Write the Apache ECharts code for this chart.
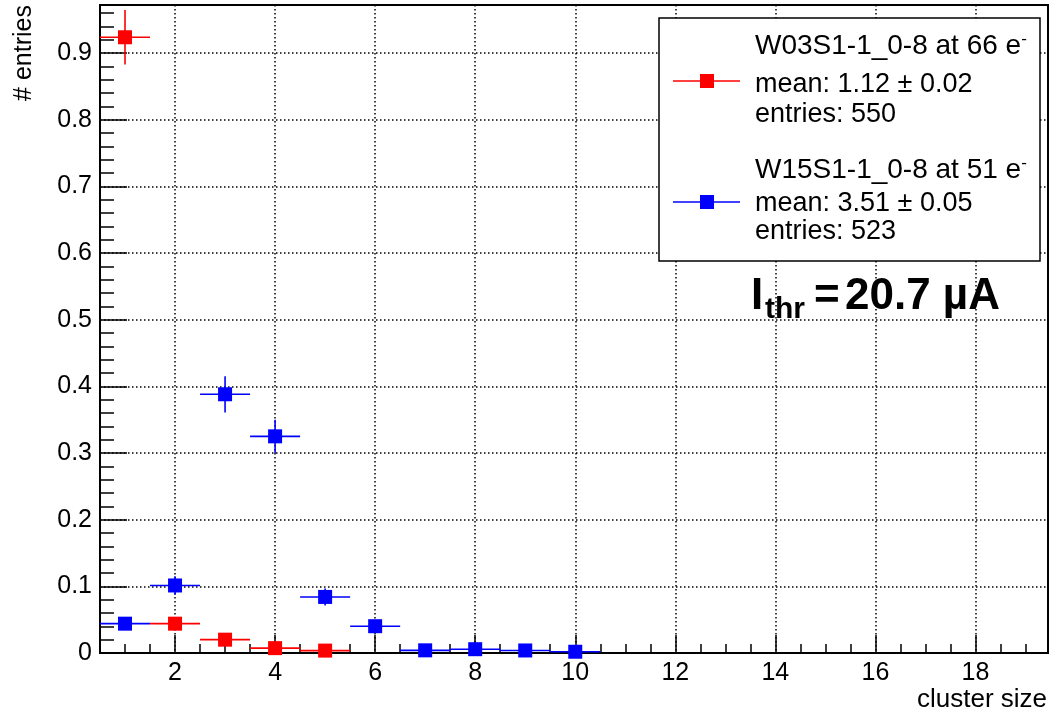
<!DOCTYPE html>
<html>
<head>
<meta charset="utf-8">
<title>cluster size</title>
<script src="https://cdn.jsdelivr.net/npm/echarts@6/dist/echarts.min.js"></script>
<style>
  html, body { margin: 0; padding: 0; background: #ffffff; }
  #chart { width: 1053px; height: 714px; }
</style>
</head>
<body>
<div id="chart"></div>
<script>
// Cluster size bins (bin centres, unit width)
const w03Sizes  = [1, 2, 3, 4, 5];
const w03Values = [0.9236, 0.0440, 0.0200, 0.0073, 0.0036];
const w03Errors = [0.0410, 0.0091, 0.0060, 0.0036, 0.0026];

const w15Sizes  = [1, 2, 3, 4, 5, 6, 7, 8, 9, 10];
const w15Values = [0.0440, 0.1013, 0.3881, 0.3250, 0.0841, 0.0402, 0.0040, 0.0057, 0.0038, 0.0019];
const w15Errors = [0.0092, 0.0139, 0.0272, 0.0249, 0.0127, 0.0088, 0.0027, 0.0033, 0.0027, 0.0019];

const w03Name = 'W03S1-1_0-8 at 66 e';
const w03Mean = 'mean: 1.12 \u00b1 0.02';
const w03Entries = 'entries: 550';
const w15Name = 'W15S1-1_0-8 at 51 e';
const w15Mean = 'mean: 3.51 \u00b1 0.05';
const w15Entries = 'entries: 523';

const xTitle = 'cluster size';
const yTitle = '# entries';

const RED = '#ff0000';
const BLUE = '#0000ff';
const FONT = '"Liberation Sans", Arial, Helvetica, sans-serif';
const TOP_Z = 100;

function toRows(xs, ys, es) {
  return xs.map((x, i) => [x, ys[i], es[i]]);
}

// Histogram point: horizontal bar over the bin width, vertical statistical error, square marker
function histPoint(color) {
  return function (params, api) {
    const x = api.value(0), y = api.value(1), e = api.value(2);
    const half = 0.5;
    const l = api.coord([x - half, y]);
    const r = api.coord([x + half, y]);
    const lo = api.coord([x, y - e]);
    const hi = api.coord([x, y + e]);
    const c = api.coord([x, y]);
    const s = 14;
    const stroke = { stroke: color, lineWidth: 1.6 };
    return {
      type: 'group',
      children: [
        { type: 'line', shape: { x1: l[0], y1: l[1], x2: r[0], y2: r[1] }, style: stroke },
        { type: 'line', shape: { x1: lo[0], y1: lo[1], x2: hi[0], y2: hi[1] }, style: stroke },
        { type: 'rect', shape: { x: c[0] - s / 2, y: c[1] - s / 2, width: s, height: s }, style: { fill: color } }
      ]
    };
  };
}

const dotted = { color: '#000', width: 1.5, type: [1.5, 2.5] };

const chart = echarts.init(document.getElementById('chart'), null, { renderer: 'canvas' });

const legendRich = {
  n: { fontSize: 28, fontFamily: FONT, color: '#000', lineHeight: 30 },
  sup: { fontSize: 17, fontFamily: FONT, color: '#000', lineHeight: 12, verticalAlign: 'top' }
};

function legendText(x, y, str, withSup) {
  return {
    type: 'text', x: x, y: y, z: TOP_Z + 1,
    style: withSup
      ? { text: '{n|' + str + '}{sup|-}', rich: legendRich, verticalAlign: 'middle', align: 'left' }
      : { text: str, font: '27px ' + FONT, fill: '#000', verticalAlign: 'middle', align: 'left' }
  };
}

function legendMarker(y, color) {
  return [
    { type: 'rect', z: TOP_Z + 1, shape: { x: 673, y: y - 0.8, width: 67, height: 1.6 }, style: { fill: color } },
    { type: 'rect', z: TOP_Z + 2, shape: { x: 700, y: y - 7, width: 14, height: 14 }, style: { fill: color } }
  ];
}

function boldText(x, y, str, size) {
  return {
    type: 'text', x: x, y: y, z: TOP_Z,
    style: { text: str, font: 'bold ' + size + 'px ' + FONT, fill: '#000', align: 'left', verticalAlign: 'middle' }
  };
}

chart.setOption({
  animation: false,
  backgroundColor: '#ffffff',
  grid: {
    left: 100, top: 5, right: 5, bottom: 61,
    show: true, borderColor: '#000', borderWidth: 2, backgroundColor: 'transparent'
  },
  xAxis: {
    type: 'value',
    min: 0.5, max: 19.45,
    splitNumber: 10, minInterval: 2, maxInterval: 2,
    axisLine: { show: true, onZero: false, lineStyle: { color: '#000', width: 2 } },
    axisTick: { show: true, inside: true, length: 18, lineStyle: { color: '#000', width: 1.5 } },
    minorTick: { show: true, splitNumber: 4, length: 9, lineStyle: { color: '#000', width: 1.5 } },
    axisLabel: {
      show: true, margin: 8, fontSize: 25, fontFamily: FONT, color: '#000',
      showMinLabel: false, showMaxLabel: false
    },
    splitLine: { show: true, showMinLine: false, showMaxLine: false, lineStyle: dotted }
  },
  yAxis: {
    type: 'value',
    min: 0, max: 0.972, interval: 0.1,
    axisLine: { show: true, onZero: false, lineStyle: { color: '#000', width: 2 } },
    axisTick: { show: true, inside: true, length: 27, lineStyle: { color: '#000', width: 1.5 } },
    minorTick: { show: true, splitNumber: 5, length: 14, lineStyle: { color: '#000', width: 1.5 } },
    axisLabel: {
      show: true, margin: 8, fontSize: 25, fontFamily: FONT, color: '#000',
      showMaxLabel: false
    },
    splitLine: { show: true, showMinLine: false, showMaxLine: false, lineStyle: dotted }
  },
  series: [
    {
      name: w03Name + '-',
      type: 'custom',
      renderItem: histPoint(RED),
      data: toRows(w03Sizes, w03Values, w03Errors),
      encode: { x: 0, y: 1 },
      clip: false,
      z: 10
    },
    {
      name: w15Name + '-',
      type: 'custom',
      renderItem: histPoint(BLUE),
      data: toRows(w15Sizes, w15Values, w15Errors),
      encode: { x: 0, y: 1 },
      clip: false,
      z: 11
    }
  ],
  graphic: {
    elements: [
      // Axis titles
      {
        type: 'text', x: 24, y: 5, rotation: Math.PI / 2, z: TOP_Z,
        style: { text: yTitle, font: '25px ' + FONT, fill: '#000', align: 'right', verticalAlign: 'middle' }
      },
      {
        type: 'text', x: 1047, y: 700, z: TOP_Z,
        style: { text: xTitle, font: '26px ' + FONT, fill: '#000', align: 'right', verticalAlign: 'middle' }
      },
      // Legend box with white fill over the grid
      {
        type: 'rect', z: TOP_Z, shape: { x: 659, y: 18, width: 381, height: 243 },
        style: { fill: '#ffffff', stroke: '#000', lineWidth: 1.5 }
      },
      ...legendMarker(81, RED),
      legendText(755, 46, w03Name, true),
      legendText(755, 85, w03Mean),
      legendText(755, 115, w03Entries),
      ...legendMarker(202, BLUE),
      legendText(755, 170, w15Name, true),
      legendText(755, 204, w15Mean),
      legendText(755, 232, w15Entries),
      // Threshold current annotation
      boldText(751, 297, 'I', 44),
      boldText(765, 310, 'thr', 30),
      boldText(814, 297, '=', 44),
      boldText(845, 297, '20.7 \u00b5A', 44)
    ]
  }
});
</script>
</body>
</html>
